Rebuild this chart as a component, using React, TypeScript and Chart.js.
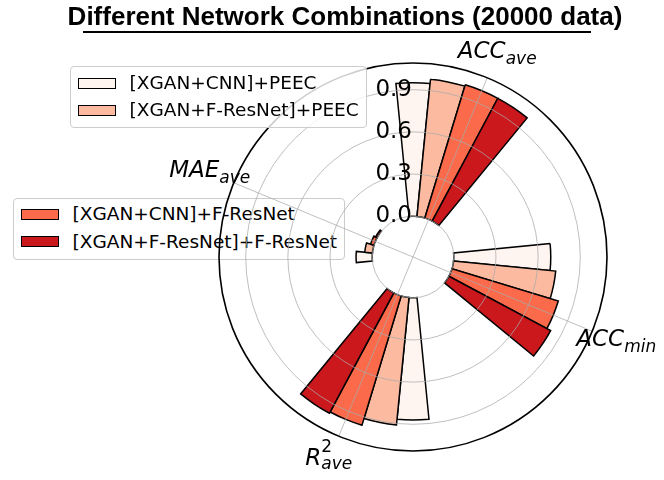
import { useEffect, useRef } from "react";
import { Chart, PolarAreaController, ArcElement, RadialLinearScale } from "chart.js";

Chart.register(PolarAreaController, ArcElement, RadialLinearScale);

// categories (drawn as main text + subscript / superscript)
const CATEGORY_MAIN = ["ACC", "ACC", "R", "MAE"];
const CATEGORY_SUB = ["ave", "min", "ave", "ave"];
const CATEGORY_SUP = ["", "", "2", ""];

const MODELS = [
  "[XGAN+CNN]+PEEC",
  "[XGAN+F-ResNet]+PEEC",
  "[XGAN+CNN]+F-ResNet",
  "[XGAN+F-ResNet]+F-ResNet",
];
const COLORS = ["#fff5f0", "#fcbba1", "#fb6a4a", "#cb181d"];

// values per category: ACC_ave, ACC_min, R2_ave, MAE_ave
const CNN_PEEC = [0.95, 0.69, 0.87, 0.115];
const FRES_PEEC = [0.98, 0.73, 0.91, 0.055];
const CNN_FRES = [0.99, 0.79, 0.96, 0.025];
const FRES_FRES = [0.99, 0.82, 0.97, 0.012];
const SERIES = [CNN_PEEC, FRES_PEEC, CNN_FRES, FRES_FRES];

const TICKS = [0, 0.3, 0.6, 0.9];
const R_MIN = -0.29;
const R_MAX = 1.09;

const BAR_ANGLE = 11.25;
const GAP_ANGLE = 45;

const values: number[] = [];
const angles: number[] = [];
const fills: string[] = [];
const borders: number[] = [];
const labels: string[] = [];
CATEGORY_MAIN.forEach((cat, c) => {
  SERIES.forEach((s, m) => {
    values.push(s[c]);
    angles.push(BAR_ANGLE);
    fills.push(COLORS[m]);
    borders.push(1.5);
    labels.push(`${cat}_${CATEGORY_SUB[c]} ${MODELS[m]}`);
  });
  values.push(0);
  angles.push(GAP_ANGLE);
  fills.push("rgba(0,0,0,0)");
  borders.push(0);
  labels.push("");
});

const GRID = "rgba(170,170,170,0.75)";

const polarDecor = {
  id: "polarDecor",
  afterDatasetsUpdate(chart: any) {
    const scale = chart.scales.r;
    const r0 = scale.getDistanceFromCenterForValue(0);
    chart.getDatasetMeta(0).data.forEach((arc: any) => {
      arc.innerRadius = r0;
    });
  },
  afterDraw(chart: any) {
    const ctx = chart.ctx;
    const scale = chart.scales.r;
    const cx = scale.xCenter;
    const cy = scale.yCenter;
    const R = scale.getDistanceFromCenterForValue(R_MAX);
    const arcs = chart.getDatasetMeta(0).data;
    const per = SERIES.length + 1;

    ctx.save();
    // spokes at category positions (through the 3rd bar of each group)
    const spokeAngles = CATEGORY_MAIN.map((_, c) => {
      const a = arcs[c * per + 2];
      return (a.startAngle + a.endAngle) / 2;
    });
    ctx.strokeStyle = GRID;
    ctx.lineWidth = 1;
    spokeAngles.forEach((a) => {
      ctx.beginPath();
      ctx.moveTo(cx, cy);
      ctx.lineTo(cx + R * Math.cos(a), cy + R * Math.sin(a));
      ctx.stroke();
    });

    // outer spine
    ctx.strokeStyle = "#000";
    ctx.lineWidth = 1.6;
    ctx.beginPath();
    ctx.arc(cx, cy, R, 0, Math.PI * 2);
    ctx.stroke();

    // radial tick labels
    ctx.fillStyle = "#000";
    ctx.font = '23px "DejaVu Sans"';
    ctx.textAlign = "right";
    ctx.textBaseline = "alphabetic";
    TICKS.forEach((v) => {
      const r = scale.getDistanceFromCenterForValue(v);
      ctx.fillText(v.toFixed(1), cx - 1, cy - r + 6);
    });

    // category labels
    ctx.textAlign = "left";
    const mainFont = 'italic 23px "DejaVu Sans"';
    const subFont = 'italic 17px "DejaVu Sans"';
    spokeAngles.forEach((a, c) => {
      const px = cx + (R + 26) * Math.cos(a);
      const py = cy + (R + 26) * Math.sin(a);
      ctx.font = mainFont;
      const mainW = ctx.measureText(CATEGORY_MAIN[c]).width;
      ctx.font = subFont;
      const subW = ctx.measureText(CATEGORY_SUB[c]).width;
      const supW = CATEGORY_SUP[c] ? ctx.measureText(CATEGORY_SUP[c]).width : 0;
      const W = mainW + Math.max(subW, supW);
      const x0 = px - W / 2;
      const base = py + 4.6;
      ctx.font = mainFont;
      ctx.fillText(CATEGORY_MAIN[c], x0, base);
      if (CATEGORY_SUP[c]) {
        ctx.font = '17px "DejaVu Sans"';
        ctx.fillText(CATEGORY_SUP[c], x0 + mainW, base - 13);
        ctx.font = subFont;
        ctx.fillText(CATEGORY_SUB[c], x0 + mainW, base + 4.5);
      } else {
        ctx.font = subFont;
        ctx.fillText(CATEGORY_SUB[c], x0 + mainW, base + 6);
      }
    });
    ctx.restore();
  },
};

function Legend({
  box,
  rows,
  items,
  z,
}: {
  box: { left: number; top: number; width: number; height: number; patchX: number; textX: number };
  rows: number[];
  items: number[];
  z: number;
}) {
  return (
    <div
      style={{
        position: "absolute",
        left: box.left,
        top: box.top,
        width: box.width,
        height: box.height,
        boxSizing: "border-box",
        border: "1px solid #cccccc",
        borderRadius: 4,
        background: "rgba(255,255,255,0.8)",
        zIndex: z,
      }}
    >
      {items.map((m, i) => (
        <div
          key={m}
          style={{
            position: "absolute",
            left: 0,
            top: rows[i] - box.top - 13,
            height: 26,
            lineHeight: "26px",
            whiteSpace: "nowrap",
          }}
        >
          <div
            style={{
              position: "absolute",
              left: box.patchX - box.left,
              top: 7.5,
              width: 38,
              height: 11,
              boxSizing: "border-box",
              border: "1px solid #000",
              background: COLORS[m],
            }}
          />
          <span
            style={{
              position: "absolute",
              left: box.textX - box.left,
              top: 0,
              fontFamily: '"DejaVu Sans"',
              fontSize: 18.5,
              color: "#000",
            }}
          >
            {MODELS[m]}
          </span>
        </div>
      ))}
    </div>
  );
}

export default function App() {
  const canvasRef = useRef<HTMLCanvasElement>(null);
  const chartRef = useRef<Chart | null>(null);

  useEffect(() => {
    if (!canvasRef.current) return;
    chartRef.current = new Chart(canvasRef.current, {
      type: "polarArea",
      data: {
        labels,
        datasets: [
          {
            data: values,
            angle: angles,
            backgroundColor: fills,
            borderColor: "#000",
            borderWidth: borders,
            borderJoinStyle: "miter",
          } as any,
        ],
      },
      options: {
        responsive: false,
        animation: false,
        events: [],
        layout: { padding: { left: 219, top: 63, right: 57, bottom: 29 } },
        plugins: { legend: { display: false }, tooltip: { enabled: false } },
        scales: {
          r: {
            type: "radialLinear",
            min: R_MIN,
            max: R_MAX,
            bounds: "data",
            startAngle: -BAR_ANGLE / 2,
            afterBuildTicks: (s: any) => {
              s.ticks = TICKS.map((v) => ({ value: v }));
            },
            ticks: { display: false },
            grid: { circular: true, color: GRID, lineWidth: 1, z: 1 },
            angleLines: { display: false },
            pointLabels: { display: false },
          } as any,
        },
      },
      plugins: [polarDecor],
    });
    return () => {
      chartRef.current?.destroy();
      chartRef.current = null;
    };
  }, []);

  return (
    <div
      style={{
        position: "fixed",
        left: 0,
        top: 0,
        width: 664,
        height: 480,
        background: "#fff",
        overflow: "hidden",
      }}
    >
      <div
        style={{
          position: "absolute",
          left: 45,
          top: 3,
          width: 600,
          textAlign: "center",
          fontFamily: '"Liberation Sans", Arial, sans-serif',
          fontWeight: "bold",
          fontSize: 26,
          lineHeight: "26px",
          whiteSpace: "nowrap",
          color: "#000",
          zIndex: 3,
        }}
      >
        Different Network Combinations (20000 data)
      </div>
      <div
        style={{
          position: "absolute",
          left: 83,
          top: 31,
          width: 508,
          height: 2,
          background: "#000",
          zIndex: 3,
        }}
      />
      <Legend
        box={{ left: 13, top: 198, width: 332, height: 62, patchX: 20, textX: 71.5 }}
        rows={[213.3, 240.7]}
        items={[2, 3]}
        z={0}
      />
      <canvas
        ref={canvasRef}
        width={664}
        height={480}
        style={{ position: "absolute", left: 0, top: 0, zIndex: 1 }}
      />
      <Legend
        box={{ left: 70, top: 66, width: 297, height: 62, patchX: 77, textX: 128.5 }}
        rows={[82.3, 109]}
        items={[0, 1]}
        z={2}
      />
    </div>
  );
}
